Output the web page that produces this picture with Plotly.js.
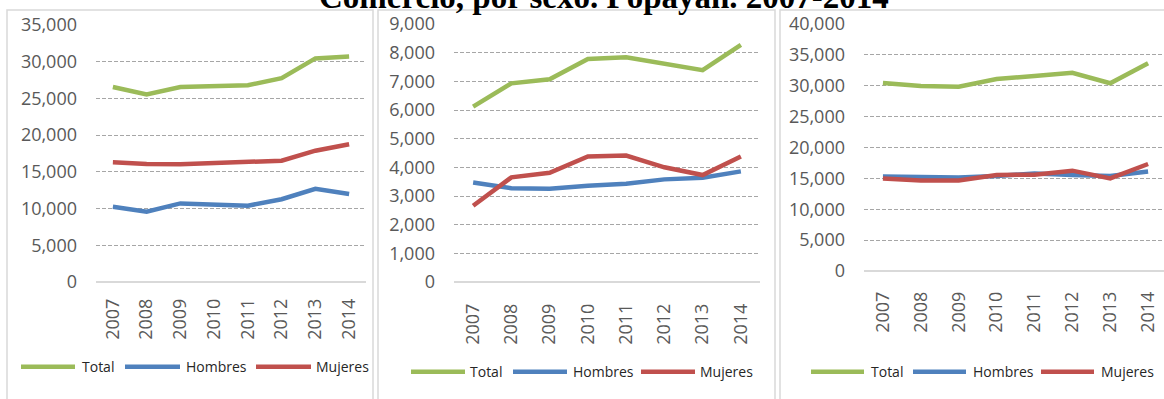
<!DOCTYPE html>
<html>
<head>
<meta charset="utf-8">
<script src="https://cdn.plot.ly/plotly-3.0.1.min.js"></script>
<style>html,body{margin:0;padding:0;background:#fff;}#chart{width:1164px;height:399px;}</style>
</head>
<body>
<div id="chart"></div>
<script>
// ---- data ----
const years = ['2007','2008','2009','2010','2011','2012','2013','2014'];
const seriesNames = ['Total','Hombres','Mujeres'];
const chartTitle = 'Comercio, por sexo. Popayán. 2007-2014';

const p1Total   = [26550, 25550, 26550, 26650, 26800, 27750, 30450, 30700];
const p1Hombres = [10250,  9580, 10700, 10550, 10400, 11270, 12700, 11990];
const p1Mujeres = [16300, 16080, 16030, 16200, 16500, 16520, 17880, 18750];

const p2Total   = [6120, 6930, 7070, 7780, 7840, 7600, 7390, 8270];
const p2Hombres = [3470, 3270, 3250, 3360, 3430, 3580, 3640, 3860];
const p2Mujeres = [2660, 3650, 3810, 4380, 4410, 4000, 3730, 4380];

const p3Total   = [30450, 29960, 29850, 31090, 31580, 32110, 30400, 33630];
const p3Hombres = [15300, 15250, 15150, 15400, 15800, 15550, 15380, 16100];
const p3Mujeres = [15000, 14650, 14650, 15550, 15600, 16250, 15000, 17330];

const yMax  = [35000, 9000, 40000];
const yStep = [5000, 1000, 5000];

// ---- styling ----
const colors = ['#9BBB59', '#4F81BD', '#C0504D'];
const W = 1164, H = 399;
const px = x => x / W;
const py = y => 1 - y / H;

const panels = [
  {data:[p1Total,p1Hombres,p1Mujeres], xd:[96,366], yd:[282,25], xr:[-0.5,7.5], frame:[7,373], legY:366.7,
   leg:[[21,75,80],[125,180,184],[256,311,314]], ylStand:18, xlStand:12},
  {data:[p2Total,p2Hombres,p2Mujeres], xd:[454,760], yd:[282,24], xr:[-0.5,7.5], frame:[378,775], legY:371.7,
   leg:[[411,465,468],[513,567,571],[641,695,698]], ylStand:18, xlStand:17},
  {data:[p3Total,p3Hombres,p3Mujeres], xd:[864,1164], yd:[271,24], xr:[-0.5,7.42], frame:[780,1190], legY:371.7,
   leg:[[811,864,869],[913,966,971],[1041,1094,1099]], ylStand:18, xlStand:16}
];

const traces = [];
const layout = {
  width: W, height: H,
  margin: {l:0, r:0, t:0, b:0},
  paper_bgcolor: '#ffffff', plot_bgcolor: 'rgba(0,0,0,0)',
  showlegend: false,
  font: {family: 'Open Sans, Liberation Sans, sans-serif', color: '#595959'},
  shapes: [], annotations: []
};

panels.forEach((p, i) => {
  const n = i === 0 ? '' : String(i + 1);
  p.data.forEach((vals, s) => {
    traces.push({
      type: 'scatter', mode: 'lines', x: years, y: vals, name: seriesNames[s],
      xaxis: 'x' + n, yaxis: 'y' + n,
      line: {color: colors[s], width: 4.5},
      hoverinfo: 'skip'
    });
  });
  layout['xaxis' + n] = {
    type: 'category', domain: [px(p.xd[0]), px(p.xd[1])], range: p.xr,
    anchor: 'y' + n, showgrid: false, zeroline: false, showline: false,
    ticks: '', tickangle: -90, ticklabelstandoff: p.xlStand,
    tickfont: {size: 18, color: '#595959', family: 'Open Sans, sans-serif'},
    fixedrange: true
  };
  layout['yaxis' + n] = {
    domain: [py(p.yd[0]), py(p.yd[1])], range: [0, yMax[i]],
    anchor: 'x' + n, dtick: yStep[i], tick0: 0,
    showgrid: true, gridcolor: '#a6a6a6', gridwidth: 1, griddash: '4px,2px',
    zeroline: true, zerolinecolor: '#d9d9d9', zerolinewidth: 1.5,
    showline: false, ticks: '', tickformat: ',d', ticklabelstandoff: p.ylStand,
    tickfont: {size: 18, color: '#595959', family: 'Open Sans, sans-serif'},
    fixedrange: true
  };
  // panel frame
  layout.shapes.push({type:'rect', xref:'paper', yref:'paper',
    x0: px(p.frame[0]), x1: px(p.frame[1]), y0: py(420), y1: py(10),
    line: {color:'#d9d9d9', width:1.5}, fillcolor:'rgba(0,0,0,0)', layer:'below'});
  // legend
  seriesNames.forEach((name, s) => {
    const l = p.leg[s];
    layout.shapes.push({type:'line', xref:'paper', yref:'paper',
      x0: px(l[0]), x1: px(l[1]), y0: py(p.legY), y1: py(p.legY),
      line: {color: colors[s], width: 4.5}});
    layout.annotations.push({xref:'paper', yref:'paper', x: px(l[2]), y: py(p.legY),
      xanchor:'left', yanchor:'middle', showarrow:false, text: name,
      font: {size: 14, color: '#262626', family: 'Open Sans, sans-serif'}});
  });
});

layout.annotations.push({xref:'paper', yref:'paper', x: px(604), y: py(-3),
  xanchor:'center', yanchor:'middle', showarrow:false, text: '<b>' + chartTitle + '</b>',
  font: {size: 33, color: '#000000', family: 'Liberation Serif, Times New Roman, serif'}});

Plotly.newPlot('chart', traces, layout, {staticPlot: true, displayModeBar: false});
</script>
</body>
</html>
